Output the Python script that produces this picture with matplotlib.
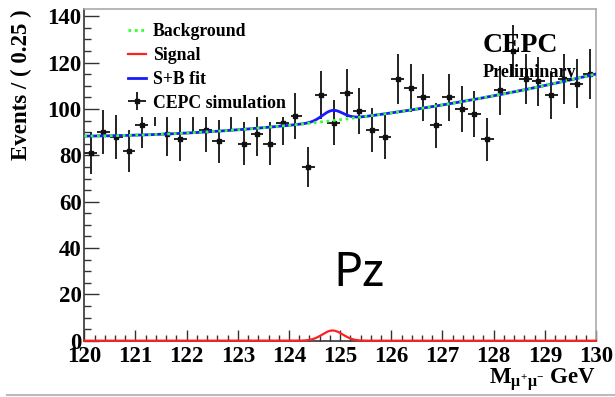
import numpy as np
import matplotlib
matplotlib.use('Agg')
import matplotlib.pyplot as plt
from matplotlib.lines import Line2D
from matplotlib.patches import Rectangle
from matplotlib.ticker import MultipleLocator

# ---------------- data ----------------
mass_lo, mass_hi, bin_width = 120.0, 130.0, 0.25
counts = [81, 90, 88, 82, 93, 103, 89, 87, 100, 91,
          86, 101, 85, 89, 85, 94, 97, 75, 106, 94,
          107, 99, 91, 88, 113, 109, 105, 93, 105, 100,
          98, 87, 108, 125, 113, 112, 106, 113, 111, 115]
# background fit: c0 + c1*(m-120) + c2*(m-120)^2
bkg_coef = [88.3, 0.153, 0.2527]
# signal fit: gaussian
sig_mean, sig_sigma, sig_peak = 124.85, 0.20, 4.4

x_ticks = [120, 121, 122, 123, 124, 125, 126, 127, 128, 129, 130]
y_ticks = [0, 20, 40, 60, 80, 100, 120, 140]
legend_labels = ["Background", "Signal", "S+B fit", "CEPC simulation"]

# ---------------- style ----------------
plt.rcParams['font.family'] = ['Liberation Serif', 'DejaVu Serif']
plt.rcParams['font.weight'] = 'bold'
plt.rcParams['mathtext.fontset'] = 'custom'
plt.rcParams['mathtext.rm'] = 'Liberation Serif:bold'
plt.rcParams['mathtext.it'] = 'Liberation Serif:bold'
plt.rcParams['mathtext.bf'] = 'Liberation Serif:bold'

W, H = 615, 397
fig = plt.figure(figsize=(W / 100, H / 100), dpi=100)
x0, x1, y0, y1 = 84.3, 596.0, 340.7, 9.0
ax = fig.add_axes([x0 / W, 1 - y0 / H, (x1 - x0) / W, (y0 - y1) / H])

def ax_x(px):
    return (px - x0) / (x1 - x0)

def ax_y(py):
    return (y0 - py) / (y0 - y1)

centers = mass_lo + bin_width / 2 + bin_width * np.arange(len(counts))
cnt = np.array(counts, dtype=float)
err = np.sqrt(cnt)

eb = ax.errorbar(centers, cnt, yerr=err, xerr=bin_width / 2, fmt='s', ms=3.5,
                 color='#111111', ecolor='#222222', elinewidth=1.4, capsize=0,
                 zorder=2, label=legend_labels[3])

m = np.linspace(mass_lo, mass_hi, 800)
t = m - mass_lo
bkg = bkg_coef[0] + bkg_coef[1] * t + bkg_coef[2] * t ** 2
sig = sig_peak * np.exp(-0.5 * ((m - sig_mean) / sig_sigma) ** 2)

l_sb, = ax.plot(m, bkg + sig, color='#1a1aff', lw=2.0, zorder=3, label=legend_labels[2])
l_bg, = ax.plot(m, bkg, color='#33ff33', lw=2.0, ls=(0, (1, 1.3)), zorder=4, label=legend_labels[0])
l_sg, = ax.plot(m, sig, color='#ff2020', lw=1.6, zorder=5, clip_on=False, label=legend_labels[1])

ax.set_xlim(mass_lo, mass_hi)
ax.set_ylim(0, (y0 - y1) / 2.317)
ax.set_xticks(x_ticks)
ax.set_yticks(y_ticks)
ax.xaxis.set_minor_locator(MultipleLocator(0.2))
ax.yaxis.set_minor_locator(MultipleLocator(5))
ax.tick_params(axis='both', which='both', direction='in', top=False, right=False,
               width=1.0, color='#333333', labelsize=16.5)
ax.tick_params(axis='y', which='major', length=10.8, pad=2)
ax.tick_params(axis='y', which='minor', length=5.3)
ax.tick_params(axis='x', which='major', length=7.7, pad=3.5)
ax.tick_params(axis='x', which='minor', length=4.1)
for lab in ax.get_xticklabels() + ax.get_yticklabels():
    lab.set_fontweight('bold')

for s in ['left', 'bottom']:
    ax.spines[s].set_color('#333333')
    ax.spines[s].set_linewidth(1.2)
for s in ['top', 'right']:
    ax.spines[s].set_color('#aaaaaa')
    ax.spines[s].set_linewidth(1.2)

ax.set_ylabel('Events / ( 0.25 )', fontsize=16.5, fontweight='bold', loc='top', labelpad=11)
ax.set_xlabel(r'$M_{\mu^{+}\mu^{-}}$ GeV', fontsize=16.5, fontweight='bold', loc='right', labelpad=0)

# white legend pad (the ROOT legend box hides the points beneath it)
ax.add_patch(Rectangle((ax_x(122), ax_y(115)), ax_x(292) - ax_x(122), ax_y(12) - ax_y(115),
                       transform=ax.transAxes, facecolor='white', edgecolor='none', zorder=9))

leg = ax.legend([l_bg, l_sg, l_sb, eb], legend_labels, loc='upper left',
                bbox_to_anchor=(0.075, 0.973), borderaxespad=0, borderpad=0.3,
                prop={'family': 'Liberation Serif', 'weight': 'bold', 'size': 12.8},
                handlelength=1.0, handletextpad=0.4, labelspacing=0.38,
                frameon=True, fancybox=False, framealpha=1.0)
leg.get_frame().set_facecolor('white')
leg.get_frame().set_edgecolor('none')
leg.set_zorder(10)

ax.text(ax_x(483), ax_y(52), 'CEPC', transform=ax.transAxes,
        fontsize=20, fontweight='bold', ha='left', va='baseline', zorder=12)
ax.text(ax_x(483), ax_y(77), 'Preliminary', transform=ax.transAxes,
        fontsize=13.1, fontweight='bold', ha='left', va='baseline', zorder=12)
ax.text(ax_x(333), ax_y(286), 'Pz', transform=ax.transAxes,
        fontsize=33, fontweight='light', family=['Noto Sans CJK KR', 'Noto Sans', 'DejaVu Sans'],
        ha='left', va='baseline', zorder=12)

fig.add_artist(Line2D([7 / W, 1.0], [1 - 395 / H, 1 - 395 / H], color='#bbbbbb', lw=1.5))

fig.savefig('out.png', dpi=100)
